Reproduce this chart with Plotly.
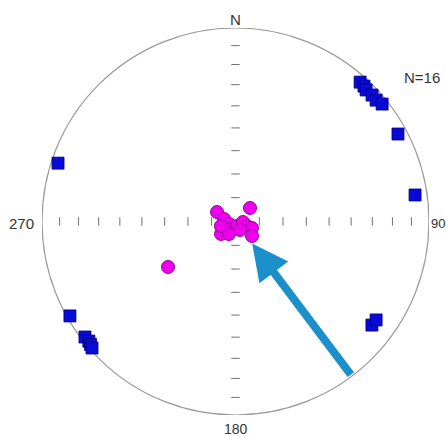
import numpy as np
import plotly.graph_objects as go

# ---- data (trend / plunge in degrees, lower-hemisphere equal-area net) ----
square_trend = [41.8, 43.5, 44.8, 47.2, 49.2, 51.3, 61.7, 81.6, 288.2, 240.3,
                232.5, 230.8, 229.7, 228.6, 127.2, 125.0]
square_plunge = [3.8, 4.0, 4.7, 4.3, 4.5, 3.3, 5.2, 6.9, 3.9, 1.7,
                 2.2, 2.5, 2.0, 1.3, 12.5, 12.3]

circle_trend = [297.2, 47.0, 282.3, 249.0, 231.7, 229.2, 205.0, 161.6, 93.8,
                111.4, 111.5, 131.3, 207.5, 152.1, 252.8, 236.0]
circle_plunge = [81.3, 81.7, 85.1, 87.1, 84.9, 82.0, 86.5, 88.0, 86.9,
                 84.8, 82.6, 80.8, 84.1, 86.0, 83.6, 55.4]

tick_angles = [10, 20, 30, 40, 50, 60, 70, 80]   # angular distance from centre
dir_labels = ["N", "90", "180", "270"]
count_label = "N=16"

arrow_azimuth = 143.0      # azimuth of arrow axis (deg)
arrow_r_tail = 1.0         # tail at primitive
arrow_r_tip = 0.143        # head near centre


def eq_area_r_from_angle(theta_deg):
    theta = np.radians(np.asarray(theta_deg, dtype=float))
    return np.sqrt(2.0) * np.sin(theta / 2.0)


def eq_area_r(plunge):
    return eq_area_r_from_angle(90.0 - np.asarray(plunge, dtype=float))


def to_xy(trend, r):
    t = np.radians(np.asarray(trend, dtype=float))
    return r * np.sin(t), r * np.cos(t)


sx, sy = to_xy(square_trend, eq_area_r(square_plunge))
cx, cy = to_xy(circle_trend, eq_area_r(circle_plunge))

tr = eq_area_r_from_angle(tick_angles)
ew_x = np.concatenate([-tr[::-1], tr])
ew_y = np.zeros_like(ew_x)
ns_y = np.concatenate([-tr[::-1], tr])
ns_x = np.zeros_like(ns_y)

fig = go.Figure()

fig.add_shape(type="circle", xref="x", yref="y", x0=-1, y0=-1, x1=1, y1=1,
              line=dict(color="#9a9a9a", width=1.2), layer="below")

fig.add_trace(go.Scatter(x=ew_x, y=ew_y, mode="markers", cliponaxis=False,
                         marker=dict(symbol="line-ns", size=6,
                                     line=dict(color="#707070", width=1)),
                         hoverinfo="skip", showlegend=False))
fig.add_trace(go.Scatter(x=ns_x, y=ns_y, mode="markers", cliponaxis=False,
                         marker=dict(symbol="line-ew", size=6,
                                     line=dict(color="#707070", width=1)),
                         hoverinfo="skip", showlegend=False))

fig.add_trace(go.Scatter(x=sx, y=sy, mode="markers", cliponaxis=False,
                         marker=dict(symbol="square", size=12, color="#0a0ad8",
                                     line=dict(color="#000080", width=0.8)),
                         showlegend=False))
fig.add_trace(go.Scatter(x=cx, y=cy, mode="markers", cliponaxis=False,
                         marker=dict(symbol="circle", size=13, color="#ee00ee",
                                     line=dict(color="#9a009a", width=1)),
                         showlegend=False))

# arrow
tail_x, tail_y = to_xy(arrow_azimuth, arrow_r_tail)
tip_x, tip_y = to_xy(arrow_azimuth, arrow_r_tip)
fig.add_annotation(x=float(tip_x), y=float(tip_y), ax=float(tail_x), ay=float(tail_y),
                   xref="x", yref="y", axref="x", ayref="y", text="",
                   showarrow=True, arrowhead=2, arrowwidth=8, arrowsize=0.9,
                   arrowcolor="#1b8fca")

fam = "Liberation Sans, Arial, sans-serif"
lab_font = dict(family=fam, size=15, color="#333333")
fig.add_annotation(x=0, y=1, text=dir_labels[0], showarrow=False, xref="x", yref="y",
                   yanchor="middle", yshift=9, font=lab_font)
fig.add_annotation(x=1, y=0, text=dir_labels[1], showarrow=False, xref="x", yref="y",
                   xanchor="left", yanchor="middle", xshift=0, yshift=-2,
                   font=dict(family=fam, size=13, color="#333333"))
fig.add_annotation(x=0, y=-1, text=dir_labels[2], showarrow=False, xref="x", yref="y",
                   yanchor="middle", yshift=-14,
                   font=dict(family=fam, size=14, color="#333333"))
fig.add_annotation(x=-1, y=0, text=dir_labels[3], showarrow=False, xref="x", yref="y",
                   xanchor="right", yanchor="middle", xshift=-6, yshift=-2, font=lab_font)
fig.add_annotation(x=0.982, y=0.871, xref="paper", yref="paper", text=count_label,
                   showarrow=False, xanchor="center", yanchor="middle",
                   font=dict(family=fam, size=15, color="#333333"))

fig.update_layout(
    width=446, height=437,
    margin=dict(l=42, r=17, t=28, b=22),
    paper_bgcolor="white", plot_bgcolor="white",
    xaxis=dict(range=[-1, 1], visible=False, fixedrange=True),
    yaxis=dict(range=[-1, 1], visible=False, fixedrange=True),
)

fig.write_html(
    "out.html",
    config={"displayModeBar": False},
    post_script="document.body.style.margin='0px';document.body.style.overflow='hidden';",
)
